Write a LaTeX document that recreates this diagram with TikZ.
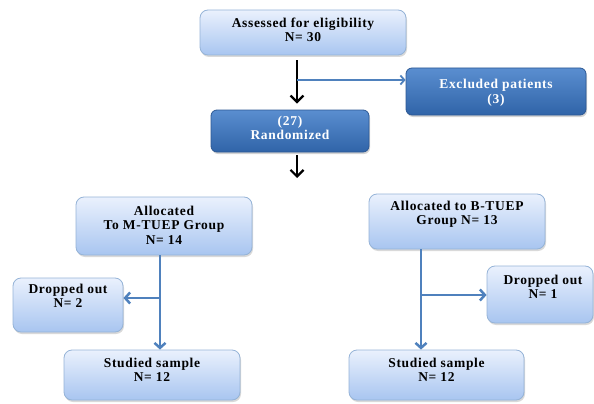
\documentclass[tikz,border=0pt]{standalone}
\usepackage{fontspec}
\setmainfont{Liberation Serif}
\newfontfamily\boxfont[LetterSpace=5]{Liberation Serif}
\usetikzlibrary{arrows.meta,positioning,shadows}
\definecolor{flowblue}{RGB}{79,129,189}
\definecolor{lighttop}{RGB}{234,241,253}
\definecolor{lightbot}{RGB}{168,197,240}
\definecolor{lightedge}{RGB}{149,179,215}
\definecolor{darktop}{RGB}{90,142,208}
\definecolor{darkbot}{RGB}{48,100,168}
\definecolor{darkedge}{RGB}{44,88,148}
\tikzset{
  lightbox/.style={draw=lightedge, line width=0.8pt, rounded corners=8pt,
    top color=lighttop, bottom color=lightbot,
    drop shadow={shadow xshift=1pt, shadow yshift=-2pt, opacity=0.3}},
  darkbox/.style={draw=darkedge, line width=0.8pt, rounded corners=6pt,
    top color=darktop, bottom color=darkbot,
    drop shadow={shadow xshift=1pt, shadow yshift=-2pt, opacity=0.35}},
  boxtext/.style={font={\boxfont\bfseries\fontsize{13.5}{14.5}\selectfont},
    align=center, inner sep=0pt},
  blkarrow/.style={line width=2.2pt, -{Straight Barb[length=6.5pt,width=13pt]}},
  bluearrow/.style={draw=flowblue, line width=2.5pt,
    -{Straight Barb[length=5pt,width=11pt]}},
}
\begin{document}
\begin{tikzpicture}[x=1pt, y=-1pt]
  \useasboundingbox (0,0) rectangle (594,404);

  % Top part
  \node[lightbox, minimum width=206pt, minimum height=45pt] (elig) at (303,32.5) {};
  \node[boxtext] (eligtext) at ([yshift=2.5pt]elig.center) {Assessed for eligibility\\N= 30};
  \node[darkbox, minimum width=180pt, minimum height=47pt] (excl) at (496,91.5) {};
  \node[boxtext, text=white] (excltext) at ([yshift=-1.5pt]excl.center) {Excluded patients\\(3)};
  \node[darkbox, minimum width=158pt, minimum height=42pt] (rand) at (290,131) {};
  \node[boxtext, text=white] (randtext) at ([yshift=3pt]rand.center) {(27)\\Randomized};

  % M-TUEP arm
  \node[lightbox, minimum width=176pt, minimum height=58pt] (allocM) at (164,226) {};
  \node[boxtext] (allocMtext) at ([yshift=1pt]allocM.center) {Allocated\\To M-TUEP Group\\N= 14};
  \node[lightbox, minimum width=110pt, minimum height=54pt] (dropM) at (68,305) {};
  \node[boxtext] (dropMtext) at ([yshift=9pt]dropM.center) {Dropped out\\N= 2};
  \node[lightbox, minimum width=176pt, minimum height=50pt] (studM) at (152,375) {};
  \node[boxtext] (studMtext) at ([yshift=5pt]studM.center) {Studied sample\\N= 12};

  % B-TUEP arm
  \node[lightbox, minimum width=176pt, minimum height=55pt] (allocB) at (457,221.5) {};
  \node[boxtext] (allocBtext) at ([yshift=7pt]allocB.center) {Allocated to B-TUEP\\Group N= 13};
  \node[lightbox, minimum width=106pt, minimum height=57pt] (dropB) at (540,294.5) {};
  \node[boxtext] (dropBtext) at ([xshift=3pt,yshift=7.5pt]dropB.center) {Dropped out\\N= 1};
  \node[lightbox, minimum width=175pt, minimum height=50pt] (studB) at (436.5,375) {};
  \node[boxtext] (studBtext) at ([yshift=5pt]studB.center) {Studied sample\\N= 12};

  % connectors
  \coordinate (exclfork) at (297,80);
  \coordinate (armsplit) at (297,178);
  \coordinate (Mfork) at (160,298);
  \coordinate (Bfork) at (421,295);
  \draw[blkarrow, shorten <=5pt, shorten >=6pt] ([xshift=-6pt]elig.south) -- ([xshift=7pt]rand.north);
  \draw[draw=flowblue, line width=1.8pt, -{Straight Barb[length=4pt,width=9pt]}] (exclfork) -- (exclfork -| excl.west);
  \draw[blkarrow, shorten <=3pt] ([xshift=7pt]rand.south) -- (armsplit);

  \draw[bluearrow] ([xshift=-4pt]allocM.south) -- ([xshift=8pt]studM.north);
  \draw[bluearrow] (Mfork) -- (Mfork -| dropM.east);
  \draw[bluearrow] ([xshift=-36pt]allocB.south) -- ([xshift=-15.5pt]studB.north);
  \draw[bluearrow] (Bfork) -- (Bfork -| dropB.west);
\end{tikzpicture}
\end{document}
